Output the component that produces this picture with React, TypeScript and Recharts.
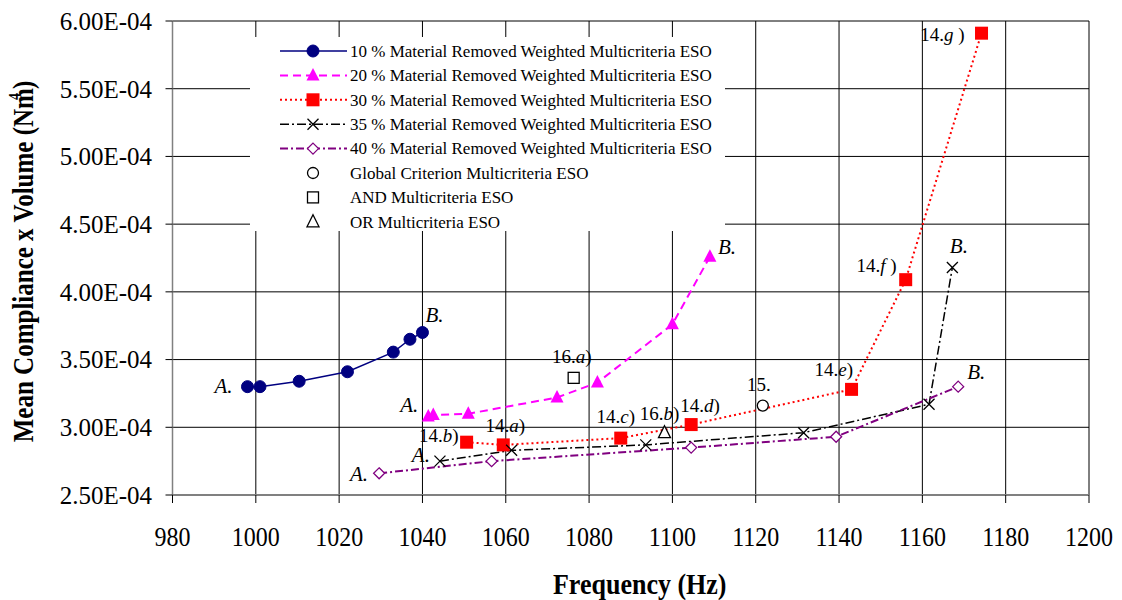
import React from 'react';
import {
  ComposedChart,
  Line,
  Scatter,
  XAxis,
  YAxis,
  CartesianGrid,
  Legend,
  ReferenceDot,
  Label,
} from 'recharts';

const FONT = "'Liberation Serif', 'Times New Roman', Times, serif";

// ---------- axes ----------
const xTicks = [980, 1000, 1020, 1040, 1060, 1080, 1100, 1120, 1140, 1160, 1180, 1200];
const yTicks = [2.5e-4, 3.0e-4, 3.5e-4, 4.0e-4, 4.5e-4, 5.0e-4, 5.5e-4, 6.0e-4];
const yTickLabels = ['2.50E-04', '3.00E-04', '3.50E-04', '4.00E-04', '4.50E-04', '5.00E-04', '5.50E-04', '6.00E-04'];

// ---------- series (x = frequency Hz, y = mean compliance x volume) ----------
const s10 = [
  { x: 998, y: 3.3e-4 },
  { x: 1001, y: 3.3e-4 },
  { x: 1010.4, y: 3.34e-4 },
  { x: 1022, y: 3.41e-4 },
  { x: 1033, y: 3.555e-4 },
  { x: 1037, y: 3.65e-4 },
  { x: 1040, y: 3.7e-4 },
];
const s20 = [
  { x: 1041.4, y: 3.08e-4 },
  { x: 1042.6, y: 3.09e-4 },
  { x: 1051, y: 3.1e-4 },
  { x: 1072.3, y: 3.22e-4 },
  { x: 1082, y: 3.33e-4 },
  { x: 1100, y: 3.76e-4 },
  { x: 1109, y: 4.26e-4 },
];
const s30 = [
  { x: 1050.6, y: 2.89e-4 },
  { x: 1059.4, y: 2.87e-4 },
  { x: 1087.6, y: 2.92e-4 },
  { x: 1104.5, y: 3.02e-4 },
  { x: 1143, y: 3.28e-4 },
  { x: 1156, y: 4.09e-4 },
  { x: 1174.2, y: 5.91e-4 },
];
const s35 = [
  { x: 1044.2, y: 2.75e-4 },
  { x: 1061.4, y: 2.83e-4 },
  { x: 1093.6, y: 2.87e-4 },
  { x: 1131.5, y: 2.96e-4 },
  { x: 1161.6, y: 3.17e-4 },
  { x: 1167.2, y: 4.18e-4 },
];
const s40 = [
  { x: 1029.6, y: 2.66e-4 },
  { x: 1056.6, y: 2.75e-4 },
  { x: 1104.5, y: 2.85e-4 },
  { x: 1139.3, y: 2.93e-4 },
  { x: 1168.6, y: 3.3e-4 },
];
const sGlobal = [{ x: 1121.7, y: 3.16e-4 }];
const sAnd = [{ x: 1076.3, y: 3.365e-4 }];
const sOr = [{ x: 1098.1, y: 2.96e-4 }];

const legendLabels = [
  '10 % Material Removed Weighted Multicriteria ESO',
  '20 % Material Removed Weighted Multicriteria ESO',
  '30 % Material Removed Weighted Multicriteria ESO',
  '35 % Material Removed Weighted Multicriteria ESO',
  '40 % Material Removed Weighted Multicriteria ESO',
  'Global Criterion Multicriteria ESO',
  'AND Multicriteria ESO',
  'OR Multicriteria ESO',
];

type Part = [string, boolean];
const annotations: { pt: { x: number; y: number }; parts: Part[]; anchor: string; dx: number; dy: number; size: number }[] = [
  { pt: s10[0], parts: [['A.', true]], anchor: 'end', dx: -15, dy: 6, size: 21 },
  { pt: s10[6], parts: [['B.', true]], anchor: 'start', dx: 3, dy: -10, size: 21 },
  { pt: s20[0], parts: [['A.', true]], anchor: 'end', dx: -10, dy: -4, size: 21 },
  { pt: s20[6], parts: [['B.', true]], anchor: 'start', dx: 8, dy: -3, size: 21 },
  { pt: s35[0], parts: [['A.', true]], anchor: 'end', dx: -10, dy: 1, size: 21 },
  { pt: s40[0], parts: [['A.', true]], anchor: 'end', dx: -11, dy: 8, size: 21 },
  { pt: s35[5], parts: [['B.', true]], anchor: 'start', dx: -2.5, dy: -14, size: 21 },
  { pt: s40[4], parts: [['B.', true]], anchor: 'start', dx: 9, dy: -8, size: 21 },
  { pt: s30[0], parts: [['14.', false], ['b', true], [')', false]], anchor: 'end', dx: -8, dy: 0, size: 19 },
  { pt: s30[1], parts: [['14.', false], ['a', true], [')', false]], anchor: 'middle', dx: 2, dy: -13, size: 19 },
  { pt: s30[2], parts: [['14.', false], ['c', true], [')', false]], anchor: 'middle', dx: -5, dy: -15.5, size: 19 },
  { pt: s30[3], parts: [['14.', false], ['d', true], [')', false]], anchor: 'middle', dx: 9, dy: -12.5, size: 19 },
  { pt: s30[4], parts: [['14.', false], ['e', true], [')', false]], anchor: 'end', dx: 1.5, dy: -13.3, size: 19 },
  { pt: s30[5], parts: [['14.', false], ['f', true], [' )', false]], anchor: 'end', dx: -9, dy: -7.3, size: 19 },
  { pt: s30[6], parts: [['14.', false], ['g', true], [' )', false]], anchor: 'end', dx: -17, dy: 7.4, size: 19 },
  { pt: sAnd[0], parts: [['16.', false], ['a', true], [')', false]], anchor: 'middle', dx: -2, dy: -14.6, size: 19 },
  { pt: sOr[0], parts: [['16.', false], ['b', true], [')', false]], anchor: 'middle', dx: -5, dy: -12.4, size: 19 },
  { pt: sGlobal[0], parts: [['15.', false]], anchor: 'middle', dx: -4, dy: -15, size: 19 },
];

// ---------- markers ----------
function Marker({ kind, cx, cy }: { kind: string; cx: number; cy: number }) {
  if (cx == null || cy == null || isNaN(cx) || isNaN(cy)) return null;
  switch (kind) {
    case 'circle':
      return <circle cx={cx} cy={cy} r={6} fill="#000080" stroke="#000080" />;
    case 'tri':
      return <polygon points={`${cx},${cy - 7.5} ${cx + 6.5},${cy + 5} ${cx - 6.5},${cy + 5}`} fill="#FF00FF" />;
    case 'square':
      return <rect x={cx - 6.5} y={cy - 6.5} width={13} height={13} fill="#FF0000" />;
    case 'x':
      return (
        <path
          d={`M${cx - 5.5},${cy - 5.5}L${cx + 5.5},${cy + 5.5}M${cx - 5.5},${cy + 5.5}L${cx + 5.5},${cy - 5.5}`}
          stroke="#000"
          strokeWidth={1.3}
          fill="none"
        />
      );
    case 'diamond':
      return (
        <polygon
          points={`${cx},${cy - 5.5} ${cx + 5.5},${cy} ${cx},${cy + 5.5} ${cx - 5.5},${cy}`}
          fill="#fff"
          stroke="#800080"
          strokeWidth={1.3}
        />
      );
    case 'ocircle':
      return <circle cx={cx} cy={cy} r={5.5} fill="#fff" stroke="#000" strokeWidth={1.3} />;
    case 'osquare':
      return <rect x={cx - 5.5} y={cy - 5.5} width={11} height={11} fill="#fff" stroke="#000" strokeWidth={1.3} />;
    case 'otri':
      return (
        <polygon
          points={`${cx},${cy - 7} ${cx + 6},${cy + 5} ${cx - 6},${cy + 5}`}
          fill="#fff"
          stroke="#000"
          strokeWidth={1.3}
        />
      );
    default:
      return null;
  }
}

const dotFor = (kind: string) => (p: any) => <Marker key={`${kind}-${p.index}`} kind={kind} cx={p.cx} cy={p.cy} />;
const shapeFor = (kind: string) => (p: any) => <Marker kind={kind} cx={p.cx} cy={p.cy} />;

// ---------- legend ----------
const legendRows = [
  { stroke: '#000080', dash: undefined, width: 1.5, marker: 'circle' },
  { stroke: '#FF00FF', dash: '8 5', width: 2, marker: 'tri' },
  { stroke: '#FF0000', dash: '2 3', width: 2, marker: 'square' },
  { stroke: '#000', dash: '9 3 2 3', width: 1.5, marker: 'x' },
  { stroke: '#800080', dash: '8 3 2 3', width: 2, marker: 'diamond' },
  { stroke: null, dash: undefined, width: 0, marker: 'ocircle' },
  { stroke: null, dash: undefined, width: 0, marker: 'osquare' },
  { stroke: null, dash: undefined, width: 0, marker: 'otri' },
];

const LegendBox = () => (
  <svg width={475} height={194} style={{ display: 'block', background: '#fff' }}>
    {legendRows.map((r, i) => {
      const cy = 14 + i * 24.4;
      return (
        <g key={i}>
          {r.stroke && (
            <line x1={30} x2={97} y1={cy} y2={cy} stroke={r.stroke} strokeWidth={r.width} strokeDasharray={r.dash} />
          )}
          <Marker kind={r.marker} cx={63} cy={cy} />
          <text x={100} y={cy + 5.8} fontFamily={FONT} fontSize={17} fill="#000">
            {legendLabels[i]}
          </text>
        </g>
      );
    })}
  </svg>
);

// ---------- text pieces ----------
const XTick = (p: any) => (
  <g transform={`translate(${p.x},${p.y + 41}) scale(1,1.18)`}>
    <text x={0} y={0} textAnchor="middle" fontFamily={FONT} fontSize={24} fill="#000">
      {String(p.payload.value)}
    </text>
  </g>
);

const YTick = (p: any) => (
  <text x={p.x} y={p.y} dy="0.355em" textAnchor="end" fontFamily={FONT} fontSize={25} fill="#000">
    {yTickLabels[p.index] ?? String(p.payload.value)}
  </text>
);

const XLabel = (p: any) => {
  const vb = p.viewBox || { x: 0, y: 0, width: 0, height: 0 };
  return (
    <g transform={`translate(${vb.x + vb.width / 2 + 9},${vb.y + 99}) scale(1,1.1)`}>
      <text x={0} y={0} textAnchor="middle" fontFamily={FONT} fontWeight="bold" fontSize={26} fill="#000">
        Frequency (Hz)
      </text>
    </g>
  );
};

const YLabel = (p: any) => {
  const vb = p.viewBox || { x: 0, y: 0, width: 0, height: 0 };
  return (
    <g transform={`translate(${vb.x + 20.5},${vb.y + 240.5}) rotate(-90) scale(1,1.2)`}>
      <text x={0} y={0} textAnchor="middle" fontFamily={FONT} fontWeight="bold" fontSize={25} fill="#000">
        Mean Compliance x Volume (Nm
        <tspan fontSize={14} dx={-12} dy={-11}>
          4
        </tspan>
        <tspan dx={4} dy={11}>
          )
        </tspan>
      </text>
    </g>
  );
};

const makeAnn = (a: (typeof annotations)[number]) => (props: any) => {
  const vb = props.viewBox || props;
  const cx = (vb.x ?? 0) + (vb.width ?? 0) / 2;
  const cy = (vb.y ?? 0) + (vb.height ?? 0) / 2;
  return (
    <text x={cx + a.dx} y={cy + a.dy} textAnchor={a.anchor as any} fontFamily={FONT} fontSize={a.size} fill="#000">
      {a.parts.map(([t, it], j) => (
        <tspan key={j} fontStyle={it ? 'italic' : 'normal'} style={{ whiteSpace: 'pre' }}>
          {t}
        </tspan>
      ))}
    </text>
  );
};

export default function App() {
  return (
    <div style={{ width: 1106, height: 592 }}>
      <style>{`html,body{overflow:hidden}`}</style>
      <ComposedChart width={1106} height={592} margin={{ top: 13, right: 25, bottom: 45, left: 4.5 }}>
        <CartesianGrid stroke="#000" strokeWidth={1} />
        <XAxis
          type="number"
          dataKey="x"
          domain={[980, 1200]}
          ticks={xTicks}
          interval={0}
          allowDataOverflow
          height={60}
          tickSize={8}
          tick={XTick}
          axisLine={{ stroke: '#808080', strokeWidth: 2 }}
          tickLine={{ stroke: '#000' }}
        >
          <Label content={XLabel} />
        </XAxis>
        <YAxis
          type="number"
          dataKey="y"
          domain={[2.5e-4, 6e-4]}
          ticks={yTicks}
          interval={0}
          allowDataOverflow
          width={160}
          tickSize={7}
          tickMargin={13.5}
          tick={YTick}
          axisLine={{ stroke: '#808080', strokeWidth: 1.5 }}
          tickLine={{ stroke: '#000' }}
        >
          <Label content={YLabel} />
        </YAxis>

        <Line data={s10} dataKey="y" stroke="#000080" strokeWidth={1.5} dot={dotFor('circle')} activeDot={false} isAnimationActive={false} />
        <Line data={s20} dataKey="y" stroke="#FF00FF" strokeWidth={2} strokeDasharray="8 5" dot={dotFor('tri')} activeDot={false} isAnimationActive={false} />
        <Line data={s30} dataKey="y" stroke="#FF0000" strokeWidth={2} strokeDasharray="2 3" dot={dotFor('square')} activeDot={false} isAnimationActive={false} />
        <Line data={s35} dataKey="y" stroke="#000" strokeWidth={1.5} strokeDasharray="9 3 2 3" dot={dotFor('x')} activeDot={false} isAnimationActive={false} />
        <Line data={s40} dataKey="y" stroke="#800080" strokeWidth={2} strokeDasharray="8 3 2 3" dot={dotFor('diamond')} activeDot={false} isAnimationActive={false} />
        <Scatter data={sGlobal} dataKey="y" shape={shapeFor('ocircle')} isAnimationActive={false} />
        <Scatter data={sAnd} dataKey="y" shape={shapeFor('osquare')} isAnimationActive={false} />
        <Scatter data={sOr} dataKey="y" shape={shapeFor('otri')} isAnimationActive={false} />

        {annotations.map((a, i) => (
          <ReferenceDot key={i} x={a.pt.x} y={a.pt.y} r={0} fill="none" stroke="none" label={makeAnn(a)} />
        ))}

        <Legend
          layout="vertical"
          align="center"
          verticalAlign="middle"
          content={LegendBox}
          wrapperStyle={{ left: 242, top: 29, width: 475, height: 194, backgroundColor: '#fff' }}
        />
      </ComposedChart>
    </div>
  );
}
